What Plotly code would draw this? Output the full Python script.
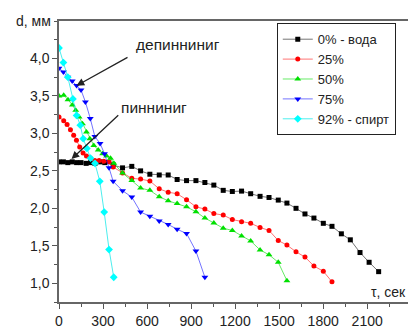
import plotly.graph_objects as go

# ---- data ----
t_water = [0, 30, 60, 90, 120, 150, 185, 215, 245, 280, 312, 369, 433, 496, 556, 619, 683, 744, 805, 869, 933,
           994, 1055, 1119, 1181, 1244, 1306, 1370, 1431, 1494, 1553, 1615, 1676, 1737, 1801, 1860, 1924, 1985,
           2051, 2113, 2178]
d_water = [2.62, 2.62, 2.61, 2.62, 2.61, 2.61, 2.60, 2.61, 2.60, 2.62, 2.61, 2.58, 2.54, 2.56, 2.50, 2.455, 2.445,
           2.445, 2.385, 2.37, 2.37, 2.345, 2.31, 2.24, 2.225, 2.23, 2.195, 2.16, 2.145, 2.11, 2.07, 2.00, 1.925,
           1.87, 1.80, 1.76, 1.66, 1.58, 1.41, 1.28, 1.155]

t_25 = [0, 32, 55, 78, 100, 119, 141, 164, 187, 214, 244, 273, 305, 341, 369, 433, 496, 556, 619, 683, 744, 805,
        869, 933, 994, 1055, 1119, 1181, 1244, 1306, 1370, 1431, 1494, 1553, 1615, 1676, 1737, 1801, 1860]
d_25 = [3.22, 3.17, 3.12, 3.05, 2.975, 2.91, 2.82, 2.74, 2.70, 2.67, 2.64, 2.64, 2.63, 2.62, 2.55, 2.47, 2.40,
        2.39, 2.365, 2.26, 2.215, 2.195, 2.115, 2.02, 1.99, 1.93, 1.91, 1.85, 1.82, 1.80, 1.745, 1.705, 1.57, 1.51,
        1.42, 1.35, 1.23, 1.16, 1.02]

t_50 = [0, 32, 61, 91, 114, 137, 160, 187, 210, 237, 267, 297, 324, 351, 374, 433, 496, 556, 619, 683, 744, 805,
        869, 933, 994, 1055, 1119, 1181, 1244, 1306, 1370, 1431, 1494, 1553]
d_50 = [3.50, 3.51, 3.45, 3.38, 3.31, 3.22, 3.13, 3.02, 2.93, 2.84, 2.78, 2.73, 2.70, 2.67, 2.60, 2.47, 2.37,
        2.27, 2.24, 2.155, 2.10, 2.065, 2.02, 1.955, 1.87, 1.805, 1.735, 1.705, 1.63, 1.565, 1.445, 1.38, 1.28,
        1.035]

t_75 = [0, 30, 60, 90, 120, 150, 180, 213, 244, 280, 310, 341, 369, 433, 496, 556, 619, 683, 744, 805, 869, 933,
        994]
d_75 = [3.87, 3.82, 3.75, 3.70, 3.64, 3.58, 3.42, 3.20, 2.96, 2.865, 2.73, 2.54, 2.36, 2.235, 2.15, 1.95, 1.895,
        1.83, 1.785, 1.72, 1.665, 1.43, 1.08]

t_92 = [0, 30, 60, 95, 120, 145, 165, 190, 215, 245, 278, 308, 341, 373]
d_92 = [4.14, 3.945, 3.75, 3.46, 3.24, 3.11, 2.93, 2.80, 2.67, 2.60, 2.36, 1.95, 1.45, 1.08]

names = ["0% - вода", "25%", "50%", "75%", "92% - спирт"]
y_ticks = [1.0, 1.5, 2.0, 2.5, 3.0, 3.5, 4.0]
x_ticks = [0, 300, 600, 900, 1200, 1500, 1800, 2100]

series = [
    (t_water, d_water, "#000000", "rgba(0,0,0,0.55)", "square", 5),
    (t_25, d_25, "#ff0000", "rgba(255,0,0,0.55)", "circle", 5),
    (t_50, d_50, "#00e000", "rgba(0,220,0,0.6)", "triangle-up", 6),
    (t_75, d_75, "#0000ff", "rgba(0,0,255,0.55)", "triangle-down", 6),
    (t_92, d_92, "#00ffff", "rgba(0,230,230,0.7)", "diamond", 6),
]

FONT = "Arial, 'Liberation Sans', sans-serif"
TXT = "#222"

fig = go.Figure()
for (t, d, mc, lc, sym, sz), nm in zip(series, names):
    fig.add_trace(go.Scatter(
        x=t, y=d, mode="lines+markers", name=nm,
        line=dict(color=lc, width=1),
        marker=dict(color=mc, symbol=sym, size=sz, line=dict(width=0)),
    ))

fig.update_layout(
    width=408, height=329,
    margin=dict(l=59, r=0, t=21, b=25),
    paper_bgcolor="white", plot_bgcolor="white",
    font=dict(family=FONT, size=13, color=TXT),
    separators=",.",
    showlegend=True,
    legend=dict(x=0.624, y=0.992, xanchor="left", yanchor="top",
                bordercolor=TXT, borderwidth=1, bgcolor="white",
                font=dict(size=13, family=FONT, color=TXT)),
    xaxis=dict(range=[0, 2378], tickvals=x_ticks, ticks="outside", ticklen=5, tickwidth=1,
               tickcolor="#555", showgrid=False, zeroline=False,
               showline=True, linecolor="#666", linewidth=1.5, mirror=True,
               minor=dict(ticks="outside", ticklen=3, tickcolor="#555", tickmode="linear", tick0=0, dtick=150,
                          showgrid=False),
               tickfont=dict(size=14, family=FONT, color=TXT)),
    yaxis=dict(range=[0.75, 4.5], tickvals=y_ticks, tickformat=".1f", ticks="outside", ticklen=5, tickwidth=1,
               tickcolor="#555", showgrid=False, zeroline=False,
               showline=True, linecolor="#666", linewidth=1.5,
               minor=dict(ticks="outside", ticklen=3, tickcolor="#555", tickmode="linear", tick0=0.75, dtick=0.25,
                          showgrid=False),
               tickfont=dict(size=14, family=FONT, color=TXT)),
)

# axis titles
fig.add_annotation(text="d, мм", xref="paper", yref="paper", x=0, y=1.0, xanchor="right", yanchor="middle",
                   xshift=-6, showarrow=False, font=dict(size=14, family=FONT, color=TXT))
fig.add_annotation(text="τ, сек", xref="paper", yref="y", x=1, y=0.88, xanchor="right", yanchor="middle",
                   xshift=0, showarrow=False, font=dict(size=14, family=FONT, color=TXT))

# labels with arrows
fig.add_annotation(text="депинниниг", x=810, y=4.19, xref="x", yref="y", showarrow=False,
                   font=dict(size=15.5, family=FONT, color=TXT))
fig.add_annotation(text=" ", x=119, y=3.636, ax=477, ay=4.025, axref="x", ayref="y", xref="x", yref="y",
                   showarrow=True, arrowhead=2, arrowsize=1.2, arrowwidth=1.3, arrowcolor=TXT,
                   font=dict(size=1))
fig.add_annotation(text="пинниниг", x=649, y=3.34, xref="x", yref="y", showarrow=False,
                   font=dict(size=15.5, family=FONT, color=TXT))
fig.add_annotation(text=" ", x=85, y=2.657, ax=414, ay=3.26, axref="x", ayref="y", xref="x", yref="y",
                   showarrow=True, arrowhead=2, arrowsize=1.2, arrowwidth=1.3, arrowcolor=TXT,
                   font=dict(size=1))

fig.write_html(
    "out.html",
    config={"displayModeBar": False},
    post_script="document.body.style.margin='0px';document.body.style.overflow='hidden';"
                "document.documentElement.style.overflow='hidden';",
)
